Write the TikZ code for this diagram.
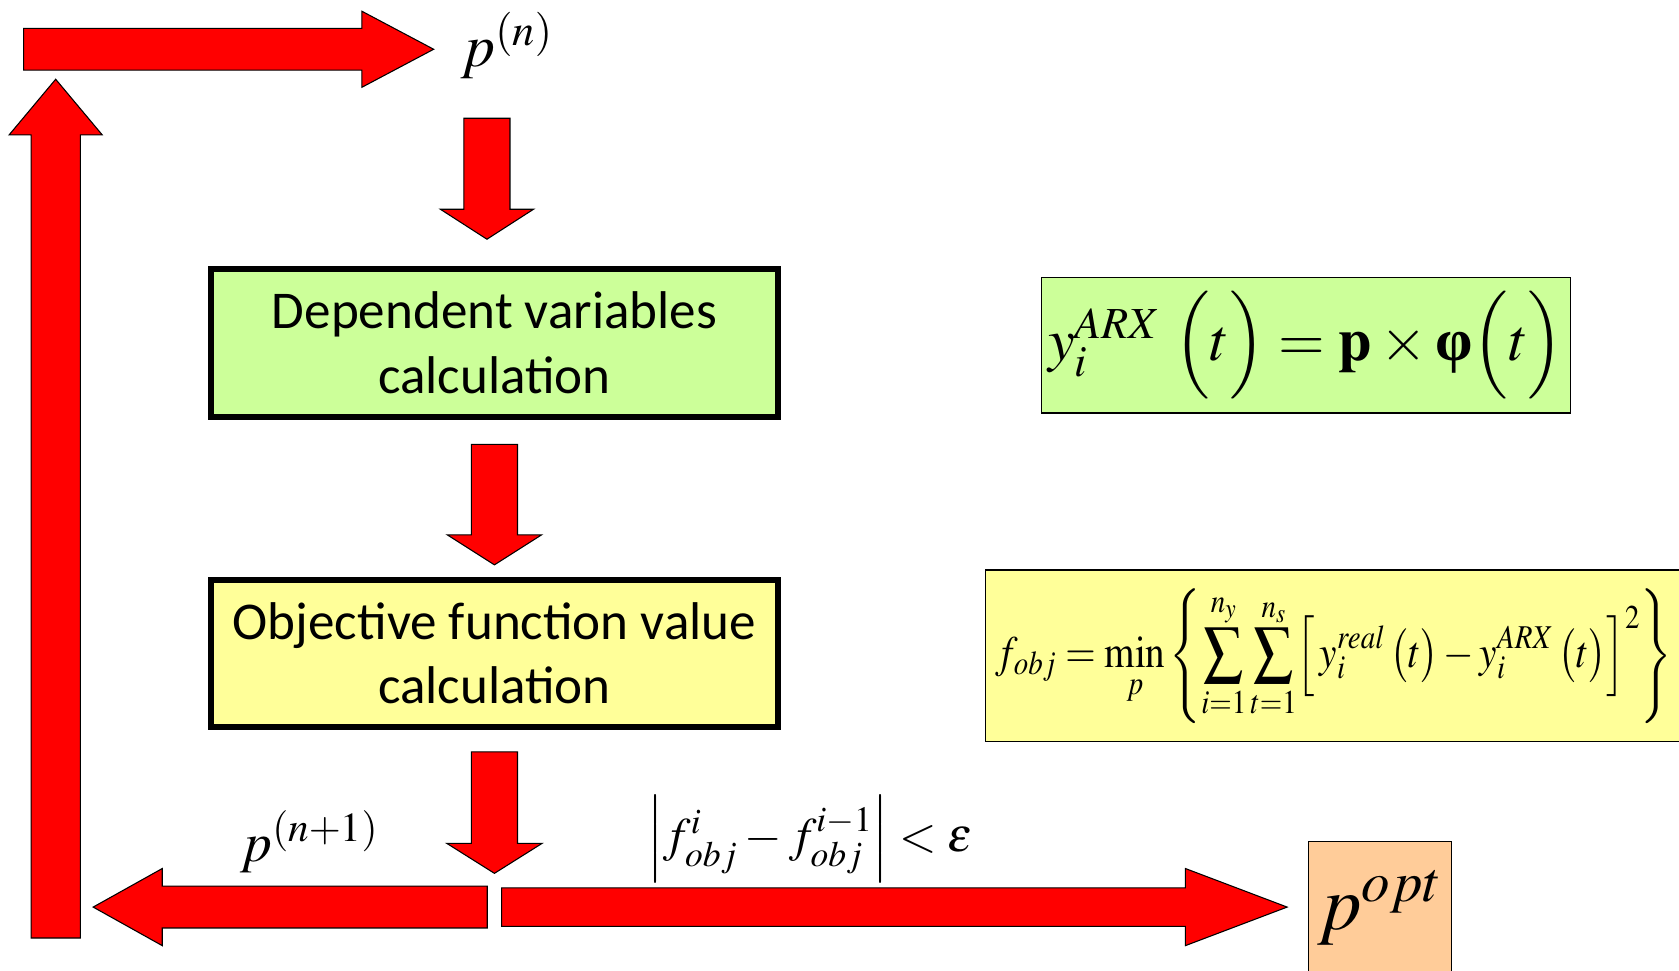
\documentclass[tikz,border=0pt]{standalone}
\usepackage{amsmath}
\usepackage{mathptmx}
\usepackage[no-math]{fontspec}
\newfontfamily\calib{Carlito}
\newfontfamily\tnr{Liberation Serif}
\usetikzlibrary{calc, positioning}
\definecolor{grn}{HTML}{CCFF99}
\definecolor{ylw}{HTML}{FFFF99}
\definecolor{pch}{HTML}{FFCC99}
\tikzset{
  calcbox/.style={rectangle, draw, line width=2.8pt, minimum width=264.5pt,
                  minimum height=69pt, align=center, inner sep=0pt,
                  font=\calib\fontsize{24.8}{30}\selectfont},
  eqbox/.style={rectangle, draw, line width=0.6pt, inner sep=0pt},
  lbl/.style={anchor=base west, inner sep=0pt},
  fat/.style={draw=black, line width=0.5pt, fill=red, line join=miter},
  blk/.style n args={3}{to path={
      let \p1=(\tikztostart), \p2=(\tikztotarget),
          \n1={atan2(\y2-\y1,\x2-\x1)}, \n2={veclen(\x2-\x1,\y2-\y1)} in
      {[shift={(\p1)}, rotate=\n1]
       (0pt,-#1*0.25pt) -- (\n2*1pt-#3*0.5pt,-#1*0.25pt)
       -- (\n2*1pt-#3*0.5pt,-#2*0.25pt) -- (\n2*1pt,0pt)
       -- (\n2*1pt-#3*0.5pt,#2*0.25pt) -- (\n2*1pt-#3*0.5pt,#1*0.25pt)
       -- (0pt,#1*0.25pt) -- cycle}}},
}
\begin{document}
\begin{tikzpicture}[x=0.5pt, y=-0.5pt]
  \fill[white] (0,0) rectangle (1568,906);
  \useasboundingbox (0,0) rectangle (1568,906);

  % flow boxes
  \node[calcbox, fill=grn] (dep) at (461.75,320.2) {Dependent variables\\calculation};
  \node[calcbox, fill=ylw, below=73.25pt of dep] (obj) {Objective function value\\calculation};

  % formulas
  \node[eqbox, fill=grn, minimum width=246.9pt, minimum height=63.2pt,
        font=\fontsize{28}{34}\selectfont] (arx) at (1219.5,322.5)
    {$y_i^{ARX}\;\Bigl(t\Bigr)=\mathbf{p}\times\mbox{\tnr\bfseries φ}\Bigl(t\Bigr)$};
  \node[eqbox, fill=ylw, anchor=west, text width=400pt, inner xsep=5pt,
        minimum height=80.15pt, align=left, font=\fontsize{21}{26}\selectfont] (fobj) at (919.6,612.5)
    {\scalebox{0.87}[1]{$\displaystyle f_{obj}=\min_{p}\left\{\sum_{i=1}^{n_y}\sum_{t=1}^{n_s}\Bigl[\,y_i^{real}\,\bigl(t\bigr)-y_i^{ARX}\,\bigl(t\bigr)\Bigr]^2\right\}$}};
  \node[eqbox, fill=pch, minimum width=67pt, minimum height=62pt,
        font=\fontsize{36}{42}\selectfont] (popt) at (1288.65,848) {$p^{opt}$};

  % labels
  \node[lbl, font=\fontsize{28}{34}\selectfont] (pn) at (430,62.5) {$p^{\left(n\right)}$};
  \node[lbl, font=\fontsize{26}{31}\selectfont] (pn1) at (224,804.5) {$p^{\left(n+1\right)}$};
  \node[lbl, font=\fontsize{22.5}{27}\selectfont] (conv) at (604,795)
    {$\left|f_{obj}^{i}-f_{obj}^{i-1}\right|<\varepsilon$};

  \coordinate (lbot) at (52,876);
  \coordinate (ltop) at (52,74);
  \coordinate (tstart) at (22,46);
  \coordinate (split) at ($(obj.south)+(0,165)$);

  % block arrows
  \draw[fat] (lbot) to[blk={46}{87}{52}] (ltop);
  \draw[fat] (tstart) to[blk={39}{71}{67}] ($(tstart -| pn.west)+(-25,0)$);
  \draw[fat] ($(dep.north)+(-7,-138)$) to[blk={43}{87}{28}] ($(dep.north)+(-7,-25)$);
  \draw[fat] ($(dep.south)+(0,23)$) to[blk={43}{88}{28}] ($(obj.north)+(0,-11)$);
  \draw[fat] ($(obj.south)+(0,20)$) to[blk={43}{89}{28}] ($(split)+(0,-31.5)$);
  \draw[fat] ($(split)+(-6.75,0)$) to[blk={39}{72}{64.5}] ($(split -| lbot)+(35,0)$);
  \draw[fat] ($(split)+(6.75,0)$) to[blk={36}{72}{95}] ($(split -| popt.west)+(-19,0)$);
\end{tikzpicture}
\end{document}
